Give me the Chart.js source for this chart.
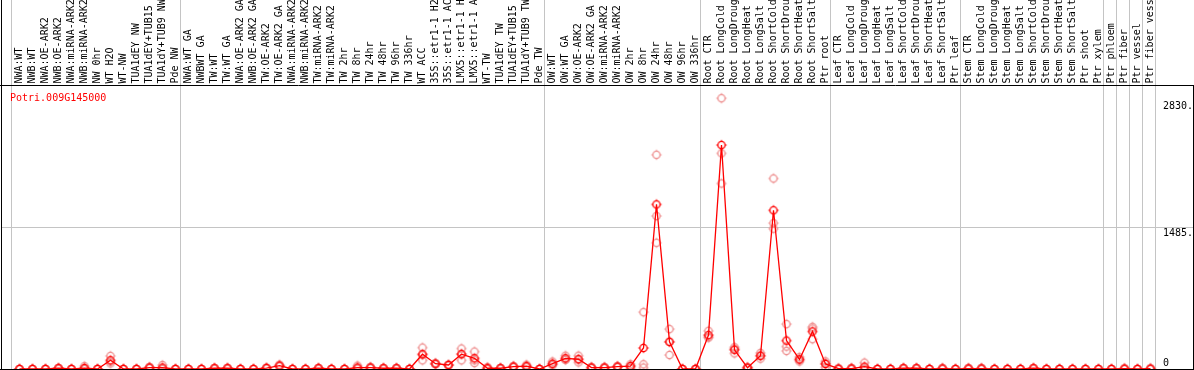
<!DOCTYPE html>
<html>
<head>
<meta charset="utf-8">
<title>Potri.009G145000</title>
<script src="https://cdn.jsdelivr.net/npm/chart.js@4.4.1/dist/chart.umd.min.js"></script>
<style>
  html, body { margin: 0; padding: 0; background: #fff; }
  canvas { display: block; }
</style>
</head>
<body>
<canvas id="exprChart" width="1194" height="370"></canvas>
<script>
// gene shown in the corner
const geneId = 'Potri.009G145000';

// sample names (one per column)
const categories = [
    'NWA:WT', 'NWB:WT', 'NWA:OE-ARK2', 'NWB:OE-ARK2', 'NWA:miRNA-ARK2', 'NWB:miRNA-ARK2', 'NW 0hr', 'WT H2O', 'WT-NW',
    'TUA1dEY NW', 'TUA1dEY+TUB15 NW', 'TUA1dY+TUB9 NW', 'Pde NW',
    'NWA:WT GA', 'NWBWT GA', 'TW:WT', 'TW:WT GA', 'NWA:OE-ARK2 GA', 'NWB:OE-ARK2 GA', 'TW:OE-ARK2', 'TW:OE-ARK2 GA',
    'NWA:miRNA-ARK2 GA', 'NWB:miRNA-ARK2 GA', 'TW:miRNA-ARK2', 'TW:miRNA-ARK2 GA',
    'TW 2hr', 'TW 8hr', 'TW 24hr', 'TW 48hr', 'TW 96hr', 'TW 336hr', 'WT ACC',
    '35S::etr1-1 H2O', '35S::etr1-1 ACC', 'LMX5::etr1-1 H2O', 'LMX5::etr1-1 ACC', 'WT-TW',
    'TUA1dEY TW', 'TUA1dEY+TUB15 TW', 'TUA1dY+TUB9 TW', 'Pde TW',
    'OW:WT', 'OW:WT GA', 'OW:OE-ARK2', 'OW:OE-ARK2 GA', 'OW:miRNA-ARK2', 'OW:miRNA-ARK2 GA',
    'OW 2hr', 'OW 8hr', 'OW 24hr', 'OW 48hr', 'OW 96hr', 'OW 336hr',
    'Root CTR', 'Root LongCold', 'Root LongDrought', 'Root LongHeat', 'Root LongSalt',
    'Root ShortCold', 'Root ShortDrought', 'Root ShortHeat', 'Root ShortSalt', 'Ptr root',
    'Leaf CTR', 'Leaf LongCold', 'Leaf LongDrought', 'Leaf LongHeat', 'Leaf LongSalt',
    'Leaf ShortCold', 'Leaf ShortDrought', 'Leaf ShortHeat', 'Leaf ShortSalt', 'Ptr leaf',
    'Stem CTR', 'Stem LongCold', 'Stem LongDrought', 'Stem LongHeat', 'Stem LongSalt',
    'Stem ShortCold', 'Stem ShortDrought', 'Stem ShortHeat', 'Stem ShortSalt', 'Ptr shoot',
    'Ptr xylem', 'Ptr phloem', 'Ptr fiber', 'Ptr vessel', 'Ptr fiber vessel'
];

// index of the first sample of each group (gray separators), last entry = end
const groupStarts = [0, 13, 41, 53, 63, 73, 84, 85, 86, 87, 88];

// mean expression per sample
const meanValues = [
    0, 0, 0, 8, 0, 10, 0, 92, 0, 0, 15, 15, 0,
    0, 0, 8, 8, 0, 0, 10, 35, 0, 0, 8, 0, 0, 15, 15, 8, 8, 0, 156, 56, 42, 156, 113, 8, 8, 25, 30, 0,
    56, 113, 103, 15, 15, 25, 30, 222, 1737, 286, 0, 0,
    358, 2364, 203, 14, 140, 1675, 300, 101, 396, 53,
    3, 5, 25, 0, 0, 8, 8, 0, 5, 0,
    5, 5, 0, 0, 0, 8, 0, 0, 0, 0,
    0, 0, 3, 0, 3
];

// replicate values (pink circles)
const rep1 = [
    0, 0, 0, 10, 0, 30, 0, 138, 0, 0, 20, 42, 0,
    0, 0, 10, 12, 0, 0, 15, 45, 0, 0, 10, 0, 0, 35, 20, 10, 10, 0, 226, 62, 46, 216, 184, 20, 10, 30, 45, 0,
    78, 140, 140, 18, 18, 30, 50, 600, 2261, 421, 0, 0,
    403, 2858, 230, 18, 170, 2011, 474, 125, 445, 80,
    5, 8, 67, 0, 0, 10, 10, 0, 8, 0,
    8, 8, 0, 0, 0, 10, 0, 0, 0, 0,
    0, 0, 5, 0, 5
];
const rep2 = [
    0, 0, 0, 8, 0, 0, 0, 60, 0, 0, 15, 3, 0,
    0, 0, 8, 6, 0, 0, 8, 30, 0, 0, 8, 0, 0, 5, 15, 8, 8, 0, 92, 55, 42, 92, 92, 3, 8, 25, 25, 0,
    50, 105, 70, 15, 15, 25, 30, 50, 1615, 148, 0, 0,
    340, 2276, 165, 14, 110, 1540, 191, 80, 315, 18,
    3, 5, 5, 0, 0, 8, 8, 0, 5, 0,
    5, 5, 0, 0, 0, 8, 0, 0, 0, 0,
    0, 0, 3, 0, 3
];
const rep3 = [
    0, 0, 0, 6, 0, 0, 0, 78, 0, 0, 10, 0, 0,
    0, 0, 6, 6, 0, 0, 7, 30, 0, 0, 6, 0, 0, 5, 10, 6, 6, 0, 150, 51, 38, 160, 63, 1, 6, 20, 20, 0,
    40, 95, 100, 12, 12, 20, 10, 15, 1332, 289, 0, 0,
    331, 1958, 214, 10, 140, 1481, 237, 98, 428, 61,
    1, 2, 3, 0, 0, 6, 6, 0, 2, 0,
    2, 2, 0, 0, 0, 6, 0, 0, 0, 0,
    0, 0, 1, 0, 1
];

// right-hand scale labels
const yTickValues = [2830, 1485, 0];
const yTickLabels = ['2830.', '1485.', '0'];
const gridValues = [1485];
const yMax = 2987;

const MONO = '10px "DejaVu Sans Mono", "Liberation Mono", monospace';
const HEADER_BOTTOM = 85;

// small circle with ticks, like the original markers
function makeMarker(color) {
    const c = document.createElement('canvas');
    c.width = 14;
    c.height = 14;
    const g = c.getContext('2d');
    g.strokeStyle = color;
    g.lineWidth = 1.3;
    g.beginPath();
    g.arc(7, 7, 3.6, 0, Math.PI * 2);
    g.stroke();
    g.lineWidth = 1;
    g.beginPath();
    g.moveTo(7, 1.8); g.lineTo(7, 3.4);
    g.moveTo(7, 10.6); g.lineTo(7, 12.2);
    g.moveTo(1.8, 7); g.lineTo(3.4, 7);
    g.moveTo(10.6, 7); g.lineTo(12.2, 7);
    g.stroke();
    return c;
}

const framePlugin = {
    id: 'frame',
    beforeDraw(chart) {
        const ctx = chart.ctx;
        ctx.save();
        ctx.fillStyle = '#fff';
        ctx.fillRect(0, 0, chart.width, chart.height);
        ctx.restore();
    },
    beforeDatasetsDraw(chart) {
        const { ctx, scales: { x, y } } = chart;
        const step = x.getPixelForValue(1) - x.getPixelForValue(0);
        const firstEdge = x.getPixelForValue(0) - step / 2;
        ctx.save();
        ctx.strokeStyle = '#c4c4c4';
        ctx.lineWidth = 1;
        // group separators, full height
        groupStarts.forEach(k => {
            const px = Math.round(firstEdge + k * step) - 1.5;
            ctx.beginPath();
            ctx.moveTo(px, 0);
            ctx.lineTo(px, chart.height);
            ctx.stroke();
        });
        // horizontal grid
        gridValues.forEach(v => {
            const py = Math.round(y.getPixelForValue(v)) - 0.5;
            ctx.beginPath();
            ctx.moveTo(1, py);
            ctx.lineTo(1193, py);
            ctx.stroke();
        });

        // rotated sample names in the header
        ctx.fillStyle = '#000';
        ctx.font = MONO;
        ctx.textAlign = 'left';
        ctx.textBaseline = 'alphabetic';
        categories.forEach((name, i) => {
            const px = x.getPixelForValue(i);
            ctx.save();
            ctx.translate(px + 2.5, HEADER_BOTTOM - 1.5);
            ctx.rotate(-Math.PI / 2);
            ctx.fillText(name, 0, 0);
            ctx.restore();
        });
        ctx.restore();
    },
    afterDatasetsDraw(chart) {
        const { ctx, scales: { y } } = chart;
        ctx.save();
        ctx.strokeStyle = '#000';
        ctx.lineWidth = 1;
        ctx.beginPath();
        ctx.moveTo(0, HEADER_BOTTOM + 0.5); ctx.lineTo(chart.width, HEADER_BOTTOM + 0.5);
        ctx.moveTo(0, 369.5); ctx.lineTo(chart.width, 369.5);
        ctx.moveTo(1.5, 0); ctx.lineTo(1.5, chart.height);
        ctx.moveTo(1193.5, HEADER_BOTTOM); ctx.lineTo(1193.5, chart.height);
        ctx.stroke();

        // gene id
        ctx.font = MONO;
        ctx.fillStyle = '#ff0000';
        ctx.textAlign = 'left';
        ctx.textBaseline = 'alphabetic';
        ctx.fillText(geneId, 10, 101);

        // scale labels on the right
        ctx.fillStyle = '#000';
        yTickValues.forEach((v, i) => {
            const py = y.getPixelForValue(v);
            const base = v === 0 ? py - 3 : py + 8;
            ctx.fillText(yTickLabels[i], 1163, base);
        });
        ctx.restore();
    }
};

const redMarker = makeMarker('#ff0000');
const pinkMarker = makeMarker('#ee9090');

function repDataset(values) {
    return {
        data: values,
        showLine: false,
        pointStyle: pinkMarker,
        pointRadius: 4,
        clip: false,
        order: 1
    };
}

new Chart(document.getElementById('exprChart'), {
    type: 'line',
    data: {
        labels: categories,
        datasets: [
            {
                data: meanValues,
                borderColor: '#ff0000',
                borderWidth: 1.3,
                tension: 0,
                pointStyle: redMarker,
                pointRadius: 4,
                clip: false,
                order: 0
            },
            repDataset(rep1),
            repDataset(rep2),
            repDataset(rep3)
        ]
    },
    options: {
        responsive: false,
        animation: false,
        events: [],
        layout: { autoPadding: false, padding: { left: 13, right: 37, top: 86, bottom: 1 } },
        plugins: { legend: { display: false }, tooltip: { enabled: false } },
        scales: {
            x: { type: 'category', offset: true, display: false },
            y: { type: 'linear', min: 0, max: yMax, display: false }
        }
    },
    plugins: [framePlugin]
});
</script>
</body>
</html>
